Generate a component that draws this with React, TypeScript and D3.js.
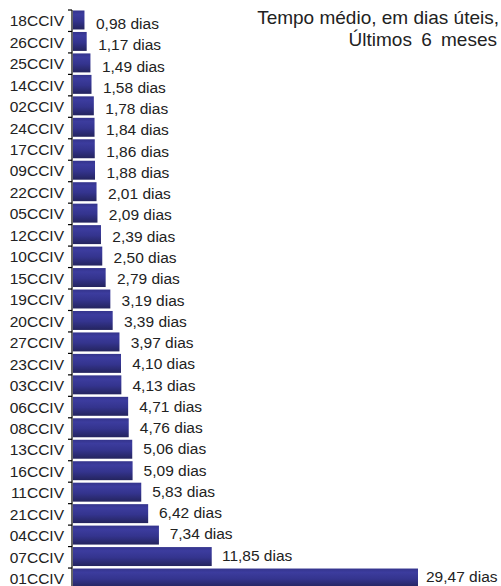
import React from "react";
import * as d3 from "d3";

const categories = ["18CCIV","26CCIV","25CCIV","14CCIV","02CCIV","24CCIV","17CCIV","09CCIV","22CCIV","05CCIV","12CCIV","10CCIV","15CCIV","19CCIV","20CCIV","27CCIV","23CCIV","03CCIV","06CCIV","08CCIV","13CCIV","16CCIV","11CCIV","21CCIV","04CCIV","07CCIV","01CCIV"];
const values = [0.98,1.17,1.49,1.58,1.78,1.84,1.86,1.88,2.01,2.09,2.39,2.50,2.79,3.19,3.39,3.97,4.10,4.13,4.71,4.76,5.06,5.09,5.83,6.42,7.34,11.85,29.47];
const titleLines = ["Tempo médio, em dias úteis,", "Últimos 6 meses"];

const W = 501, H = 586;
const FONT = "'Liberation Sans', Arial, Helvetica, sans-serif";

export default function App() {
  const x = d3.scaleLinear().domain([0, 29.47]).range([73, 418]);
  const xLab = d3.scaleLinear().domain([0.98, 29.47]).range([96, 426]);
  const y = d3.scaleBand<string>().domain(categories).range([10, 589.5]).padding(0);
  const yLab = d3.scalePoint<string>().domain(categories).range([29, 582]);
  const fmt = (v: number) => d3.format(".2f")(v).replace(".", ",") + " dias";
  const bw = y.bandwidth();
  return (
    <svg width={W} height={H} style={{ position: "absolute", left: 0, top: 0, background: "#fff" }}>
      <defs>
        <linearGradient id="barg" x1="0" y1="0" x2="0" y2="1">
          <stop offset="0%" stopColor="#34348c" />
          <stop offset="20%" stopColor="#3c3c9e" />
          <stop offset="55%" stopColor="#34348e" />
          <stop offset="100%" stopColor="#24245e" />
        </linearGradient>
      </defs>
      {categories.map((c, i) => (
        <g key={c}>
          <rect x={x(0)} y={(y(c) as number) + 0.5} width={x(values[i]) - x(0)} height={bw - 2.5} fill="url(#barg)" />
          <line x1={68} x2={72} y1={y(c) as number} y2={y(c) as number} stroke="#000" strokeWidth={1.2} />
          <text x={64} y={(y(c) as number) + bw / 2 + 5.5} textAnchor="end" fontFamily={FONT} fontSize={15.5} fill="#222">{c}</text>
          <text x={xLab(values[i])} y={yLab(c)} fontFamily={FONT} fontSize={15.5} fill="#222">{fmt(values[i])}</text>
        </g>
      ))}
      <line x1={72} x2={72} y1={10} y2={H} stroke="#000" strokeWidth={1.2} />
      <text x={499} y={24} textAnchor="end" fontFamily={FONT} fontSize={19} fill="#222">{titleLines[0]}</text>
      <text x={497} y={46} textAnchor="end" fontFamily={FONT} fontSize={19} wordSpacing={4} fill="#222">{titleLines[1]}</text>
    </svg>
  );
}
